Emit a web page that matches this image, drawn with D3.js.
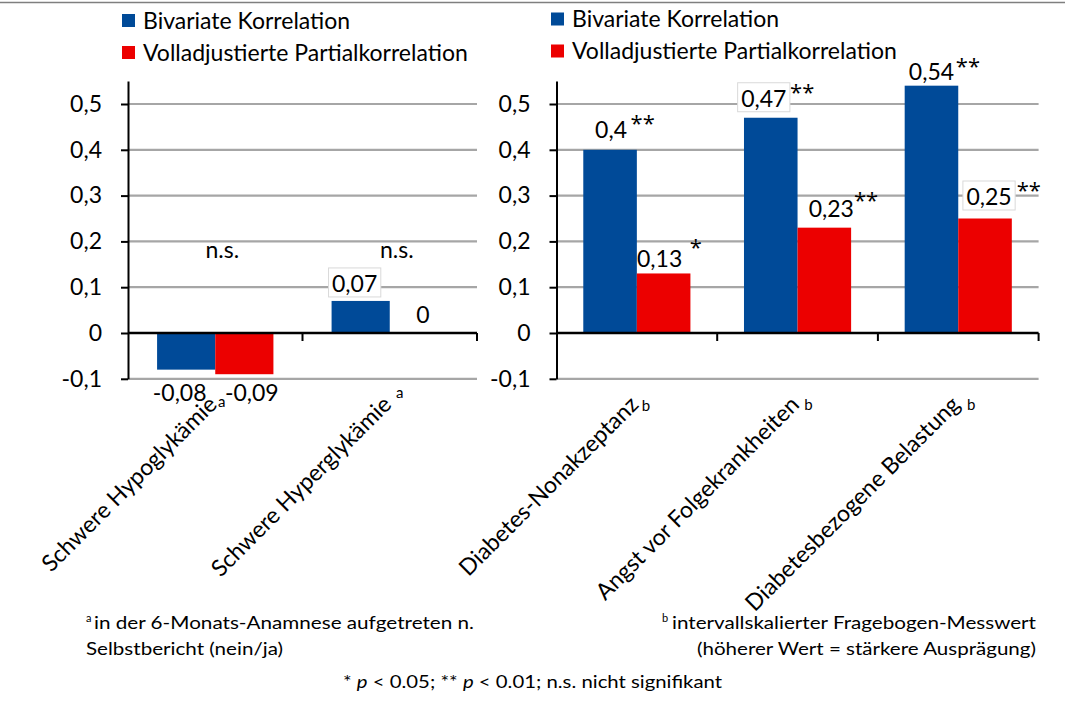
<!DOCTYPE html>
<html>
<head>
<meta charset="utf-8">
<script src="https://cdn.jsdelivr.net/npm/d3@7"></script>
<style>
  html, body { margin: 0; padding: 0; background: #fff; }
  svg { display: block; }
</style>
</head>
<body>
<svg id="chart" width="1065" height="703"></svg>
<script>
// ---- data ----
const seriesNames = ["Bivariate Korrelation", "Volladjustierte Partialkorrelation"];

const leftCategories = ["Schwere Hypoglykämie", "Schwere Hyperglykämie"];
const leftBivariate = [-0.08, 0.07];
const leftPartial = [-0.09, 0];
const leftSignificance = ["n.s.", "n.s."];
const leftNote = "a";

const rightCategories = ["Diabetes-Nonakzeptanz", "Angst vor Folgekrankheiten", "Diabetesbezogene Belastung"];
const rightBivariate = [0.40, 0.47, 0.54];
const rightPartial = [0.13, 0.23, 0.25];
const rightBivariateStars = ["**", "**", "**"];
const rightPartialStars = ["*", "**", "**"];
const rightNote = "b";

const yTicks = [-0.1, 0, 0.1, 0.2, 0.3, 0.4, 0.5];

const noteLeftLines = ["in der 6-Monats-Anamnese aufgetreten n.", "Selbstbericht (nein/ja)"];
const noteRightLines = ["intervallskalierter Fragebogen-Messwert", "(höherer Wert = stärkere Ausprägung)"];

// ---- styling / layout ----
const FONT = "Lato, 'Open Sans', sans-serif";
const STAR_FONT = "'Open Sans', Lato, sans-serif";
const FS = 23;
const colors = { biv: "#004A98", par: "#EC0000", grid: "#A6A6A6", axis: "#000000", frame: "#7F7F7F" };

const svg = d3.select("#chart").attr("font-family", FONT);
const fmt = d3.formatLocale({ decimal: ",", thousands: ".", grouping: [3], currency: ["", "€"], minus: "-" }).format(".2~f");

const y = d3.scaleLinear().domain([-0.1, 0.55]).range([378.8, 81.1]);

// thin rule across the top
svg.append("line")
  .attr("x1", 0).attr("x2", 1065).attr("y1", 2.5).attr("y2", 2.5)
  .attr("stroke", colors.frame).attr("stroke-width", 1.5);

function drawLegend(x, yTop) {
  const g = svg.append("g").attr("transform", `translate(${x},${yTop})`);
  const items = g.selectAll("g").data(seriesNames).join("g")
    .attr("transform", (d, i) => `translate(0,${i * 32})`);
  items.append("rect").attr("width", 13).attr("height", 13)
    .attr("fill", (d, i) => i === 0 ? colors.biv : colors.par);
  items.append("text").attr("x", 21).attr("y", 14.5)
    .attr("font-size", FS).attr("fill", "#000").text(d => d);
}

function drawPanel(cfg) {
  const g = svg.append("g");
  const x0 = d3.scaleBand().domain(cfg.categories).range([cfg.left, cfg.right]).padding(0);
  const step = x0.step();
  const x1 = d3.scaleBand().domain(["biv", "par"]).range([step / 6, step * 5 / 6]).padding(0);

  // horizontal gridlines
  g.append("g").selectAll("line").data(yTicks.filter(t => t !== 0)).join("line")
    .attr("x1", cfg.left).attr("x2", cfg.right)
    .attr("y1", d => y(d)).attr("y2", d => y(d))
    .attr("stroke", colors.grid).attr("stroke-width", 2.2);

  const rows = cfg.categories.map((c, i) => ({
    cat: c, i,
    values: [
      { key: "biv", v: cfg.biv[i], i },
      { key: "par", v: cfg.par[i], i }
    ]
  }));

  // bars
  const groups = g.append("g").selectAll("g").data(rows).join("g")
    .attr("transform", d => `translate(${x0(d.cat)},0)`);
  groups.selectAll("rect").data(d => d.values).join("rect")
    .attr("x", d => x1(d.key))
    .attr("width", x1.bandwidth())
    .attr("y", d => y(Math.max(0, d.v)))
    .attr("height", d => Math.abs(y(d.v) - y(0)))
    .attr("fill", d => d.key === "biv" ? colors.biv : colors.par);

  // y axis
  const ax = g.append("g").attr("transform", `translate(${cfg.left},0)`)
    .call(d3.axisLeft(y).tickValues(yTicks).tickFormat(fmt).tickSize(7).tickSizeOuter(0).tickPadding(19));
  ax.attr("font-family", FONT).attr("font-size", FS);
  ax.select(".domain").attr("stroke", colors.axis).attr("stroke-width", 2);
  ax.selectAll(".tick line").attr("stroke", colors.axis).attr("stroke-width", 2);
  ax.selectAll(".tick text").attr("fill", "#000");

  // x axis at zero with ticks between categories
  g.append("line").attr("x1", cfg.left).attr("x2", cfg.right)
    .attr("y1", y(0)).attr("y2", y(0))
    .attr("stroke", colors.axis).attr("stroke-width", 2.4);
  g.append("g").selectAll("line").data(cfg.categories).join("line")
    .attr("x1", d => x0(d) + step).attr("x2", d => x0(d) + step)
    .attr("y1", y(0)).attr("y2", y(0) + 8)
    .attr("stroke", colors.axis).attr("stroke-width", 2);

  // value labels
  const labels = g.append("g");
  rows.forEach(r => {
    r.values.forEach(d => {
      const nudge = cfg.labelNudge[d.key][d.i];
      const cx = x0(r.cat) + x1(d.key) + x1.bandwidth() / 2 + nudge[0];
      const by = y(d.v) + nudge[1];
      const holder = labels.append("g");
      const t = holder.append("text")
        .attr("x", cx).attr("y", by).attr("text-anchor", "middle")
        .attr("font-size", FS).attr("fill", "#000").text(fmt(d.v));
      const boxed = cfg.boxed.some(b => b[0] === d.key && b[1] === d.i);
      if (boxed) {
        const bb = t.node().getBBox();
        holder.insert("rect", "text")
          .attr("x", bb.x - 3.5).attr("y", bb.y - 1)
          .attr("width", bb.width + 7).attr("height", bb.height + 1)
          .attr("fill", "#fff").attr("stroke", "#D9D9D9").attr("stroke-width", 1);
      }
      if (cfg.stars) {
        const s = cfg.stars[d.key][d.i];
        const sn = cfg.starNudge[d.key][d.i];
        const w = t.node().getComputedTextLength();
        holder.append("text")
          .attr("x", cx + w / 2 + sn[0]).attr("y", by - sn[1])
          .attr("font-family", STAR_FONT)
          .attr("font-size", 22).attr("fill", "#000").text(s);
      }
    });
  });

  // "n.s." notes
  if (cfg.significance) {
    labels.selectAll(".ns").data(cfg.categories).join("text")
      .attr("x", d => x0(d) + step / 2 + 7).attr("y", 258)
      .attr("text-anchor", "middle").attr("font-size", FS).attr("fill", "#000")
      .text((d, i) => cfg.significance[i]);
  }

  // rotated category labels
  g.append("g").selectAll("text").data(cfg.categories).join("text")
    .attr("transform", d => `translate(${x0(d) + step / 2 + 3},406) rotate(-45)`)
    .attr("text-anchor", "end").attr("font-size", FS).attr("fill", "#000")
    .text(d => d);

  // footnote markers beside category labels
  g.append("g").selectAll("text").data(cfg.categories).join("text")
    .attr("x", (d, i) => x0(d) + step / 2 + cfg.markerNudge[i][0])
    .attr("y", (d, i) => cfg.markerNudge[i][1])
    .attr("text-anchor", "middle").attr("font-size", 15).attr("fill", "#000")
    .text(cfg.note);
}

drawPanel({
  categories: leftCategories, biv: leftBivariate, par: leftPartial,
  left: 128, right: 477,
  significance: leftSignificance, note: leftNote,
  labelNudge: { biv: [[-6.5, 31], [-6, -9]], par: [[7.5, 27], [4, -10]] },
  boxed: [["biv", 1]],
  markerNudge: [[6.5, 407], [10, 398]]
});

drawPanel({
  categories: rightCategories, biv: rightBivariate, par: rightPartial,
  left: 556.5, right: 1038.6,
  note: rightNote,
  stars: { biv: rightBivariateStars, par: rightPartialStars },
  labelNudge: { biv: [[1, -12], [-7, -11], [0, -6]], par: [[-4, -6.5], [7, -10.7], [4, -13.5]] },
  starNudge: { biv: [[3.6, 7], [3.7, 6.5], [1.7, 5.5]], par: [[7.5, 11.5], [0, 8.5], [5, 7.5]] },
  boxed: [["biv", 1], ["par", 2]],
  markerNudge: [[9, 411], [11, 410], [13, 410]]
});

drawLegend(122, 14);
drawLegend(551, 12.5);

// footnotes
const notes = svg.append("g").attr("font-size", 17).attr("fill", "#000");
notes.append("text").attr("x", 86).attr("y", 622).attr("font-size", 11).text(leftNote);
notes.append("text").attr("x", 94).attr("y", 629).attr("textLength", 380).attr("lengthAdjust", "spacingAndGlyphs").text(noteLeftLines[0]);
notes.append("text").attr("x", 86).attr("y", 655).attr("textLength", 197).attr("lengthAdjust", "spacingAndGlyphs").text(noteLeftLines[1]);
notes.append("text").attr("x", 662).attr("y", 622).attr("font-size", 11).text(rightNote);
notes.append("text").attr("x", 1036).attr("y", 629).attr("text-anchor", "end").attr("textLength", 364).attr("lengthAdjust", "spacingAndGlyphs").text(noteRightLines[0]);
notes.append("text").attr("x", 1036).attr("y", 655).attr("text-anchor", "end").attr("textLength", 339).attr("lengthAdjust", "spacingAndGlyphs").text(noteRightLines[1]);

const sig = notes.append("text").attr("x", 343).attr("y", 688)
  .attr("textLength", 379).attr("lengthAdjust", "spacingAndGlyphs");
sig.append("tspan").text("* ");
sig.append("tspan").attr("font-style", "italic").text("p");
sig.append("tspan").text(" < 0.05; ** ");
sig.append("tspan").attr("font-style", "italic").text("p");
sig.append("tspan").text(" < 0.01; n.s. nicht signifikant");
</script>
</body>
</html>
